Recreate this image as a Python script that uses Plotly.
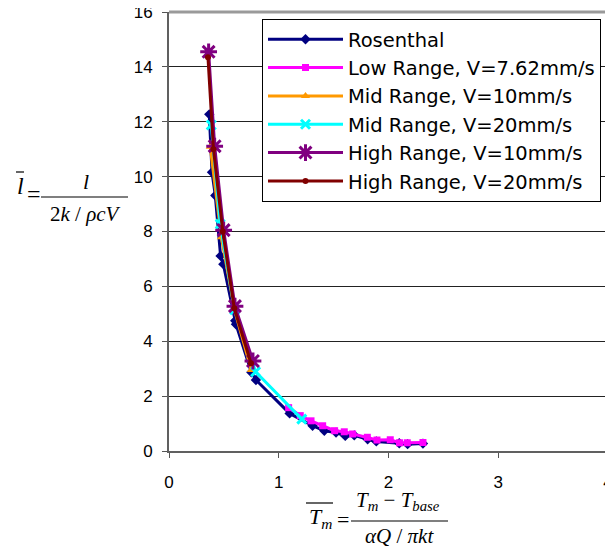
import plotly.graph_objects as go

# ---- data ----
ros_x = [0.367, 0.392, 0.422, 0.470, 0.495, 0.603, 0.610, 0.750, 0.792, 1.099, 1.308, 1.415, 1.522, 1.606, 1.688, 1.810, 1.889, 2.098, 2.174, 2.314]
ros_y = [12.27, 10.16, 9.31, 7.11, 6.81, 4.75, 4.62, 2.87, 2.59, 1.37, 0.92, 0.74, 0.67, 0.55, 0.57, 0.43, 0.35, 0.28, 0.25, 0.27]

low_x = [1.090, 1.196, 1.294, 1.400, 1.509, 1.597, 1.673, 1.807, 1.895, 2.016, 2.100, 2.171, 2.314]
low_y = [1.58, 1.29, 1.10, 0.92, 0.74, 0.70, 0.62, 0.50, 0.40, 0.41, 0.30, 0.30, 0.31]

mid10_x = [0.376, 0.477, 0.600, 0.750]
mid10_y = [11.09, 7.79, 5.10, 2.95]

mid20_x = [0.385, 0.467, 0.598, 0.789, 1.210]
mid20_y = [11.88, 8.27, 5.15, 2.89, 1.16]

high10_x = [0.361, 0.416, 0.498, 0.601, 0.765]
high10_y = [14.55, 11.11, 8.05, 5.28, 3.28]

high20_x = [0.355, 0.405, 0.490, 0.595, 0.747]
high20_y = [14.35, 11.00, 8.00, 5.20, 3.20]

names = ["Rosenthal", "Low Range, V=7.62mm/s", "Mid Range, V=10mm/s",
         "Mid Range, V=20mm/s", "High Range, V=10mm/s", "High Range, V=20mm/s"]

x_ticks = [0, 1, 2, 3, 4]
y_ticks = [0, 2, 4, 6, 8, 10, 12, 14, 16]

# ---- layout geometry (page has an 8px body margin) ----
OFF = 8
W, H = 613 - OFF, 550 - OFF
ML, MT = 169 - OFF, 12 - OFF
PW, PH = 439, 439
MR, MB = W - ML - PW, H - MT - PH


def px(x):  # screen pixel -> paper fraction
    return (x - OFF - ML) / PW


def py(y):
    return (MT + PH - (y - OFF)) / PH


fig = go.Figure()

series = [
    (ros_x, ros_y, "#000080", "diamond", 8, 0),
    (low_x, low_y, "#FF00FF", "square", 7, 0),
    (mid10_x, mid10_y, "#FF9900", "triangle-up", 8, 0),
    (mid20_x, mid20_y, "#00FFFF", "x-thin-open", 9, 3),
    (high10_x, high10_y, "#800080", "asterisk-open", 14, 3),
    (high20_x, high20_y, "#800000", "circle", 6, 0),
]
for (xs, ys, col, sym, sz, lw), nm in zip(series, names):
    mk = dict(color=col, symbol=sym, size=sz)
    if lw:
        mk["line"] = dict(color=col, width=lw)
    fig.add_trace(go.Scatter(x=xs, y=ys, mode="lines+markers", name=nm,
                             line=dict(color=col, width=3), marker=mk))

serif = "Liberation Serif, Times New Roman, serif"
annots = []
shapes = []

# y-axis title: l̄ = l / (2k/ρcV)
annots.append(dict(text="<i>l</i>", x=px(20), y=py(186), font=dict(size=24)))
shapes.append(dict(type="line", x0=px(16), x1=px(24), y0=py(172), y1=py(172)))
annots.append(dict(text="=", x=px(34), y=py(194), font=dict(size=24)))
annots.append(dict(text="<i>l</i>", x=px(86), y=py(182), font=dict(size=22)))
shapes.append(dict(type="line", x0=px(41), x1=px(128), y0=py(197), y1=py(197)))
annots.append(dict(text="2<i>k</i> / <i>ρcV</i>", x=px(85), y=py(214), font=dict(size=21)))

# x-axis title: T̄m = (Tm − Tbase)/(αQ/πkt)
annots.append(dict(text="<i>T</i><sub><i>m</i></sub>", x=px(320), y=py(518), font=dict(size=22)))
shapes.append(dict(type="line", x0=px(306), x1=px(333), y0=py(503), y1=py(503)))
annots.append(dict(text="=", x=px(343), y=py(519), font=dict(size=22)))
annots.append(dict(text="<i>T</i><sub><i>m</i></sub> − <i>T</i><sub><i>base</i></sub>",
                   x=px(398), y=py(501), font=dict(size=21)))
shapes.append(dict(type="line", x0=px(351), x1=px(448), y0=py(521), y1=py(521)))
annots.append(dict(text="<i>αQ</i> / <i>πkt</i>", x=px(399), y=py(536), font=dict(size=21)))

for a in annots:
    a.update(xref="paper", yref="paper", showarrow=False, xanchor="center", yanchor="middle")
    a["font"].update(family=serif, color="black")
for s in shapes:
    s.update(xref="paper", yref="paper", line=dict(color="black", width=1.2))

# plot frame: top and right borders (gray)
shapes.append(dict(type="line", xref="paper", yref="paper", x0=0, x1=1, y0=1, y1=1,
                   line=dict(color="#9a9a9a", width=3)))
shapes.append(dict(type="line", xref="paper", yref="paper", x0=1, x1=1, y0=0, y1=1,
                   line=dict(color="#808080", width=2)))

fig.update_layout(
    width=W, height=H,
    margin=dict(l=ML, r=MR, t=MT, b=MB, autoexpand=False),
    paper_bgcolor="white", plot_bgcolor="white",
    font=dict(family="Liberation Sans, Arial, sans-serif", color="black", size=17),
    annotations=annots, shapes=shapes,
    legend=dict(x=px(262), y=py(19), xanchor="left", yanchor="top",
                bgcolor="white", bordercolor="black", borderwidth=1,
                font=dict(family="DejaVu Sans, sans-serif", size=19.5, color="black"),
                itemwidth=75, tracegroupgap=0),
    showlegend=True,
)
fig.update_xaxes(range=[0, 4], tickvals=x_ticks, ticks="outside", ticklen=5,
                 tickcolor="#555", showgrid=False, zeroline=False, automargin=False,
                 showline=True, linecolor="#606060", linewidth=2, mirror=False,
                 ticklabelstandoff=10, ticklabeloverflow="allow", tickfont=dict(size=17))
fig.update_yaxes(range=[0, 16], tickvals=y_ticks, ticks="outside", ticklen=5,
                 tickcolor="#555", showgrid=True, gridcolor="#222", gridwidth=1,
                 zeroline=False, showline=True, linecolor="#606060", linewidth=2,
                 mirror=False, ticklabelstandoff=6, ticklabeloverflow="allow",
                 tickfont=dict(size=17), automargin=False)

fig.write_html("out.html")
